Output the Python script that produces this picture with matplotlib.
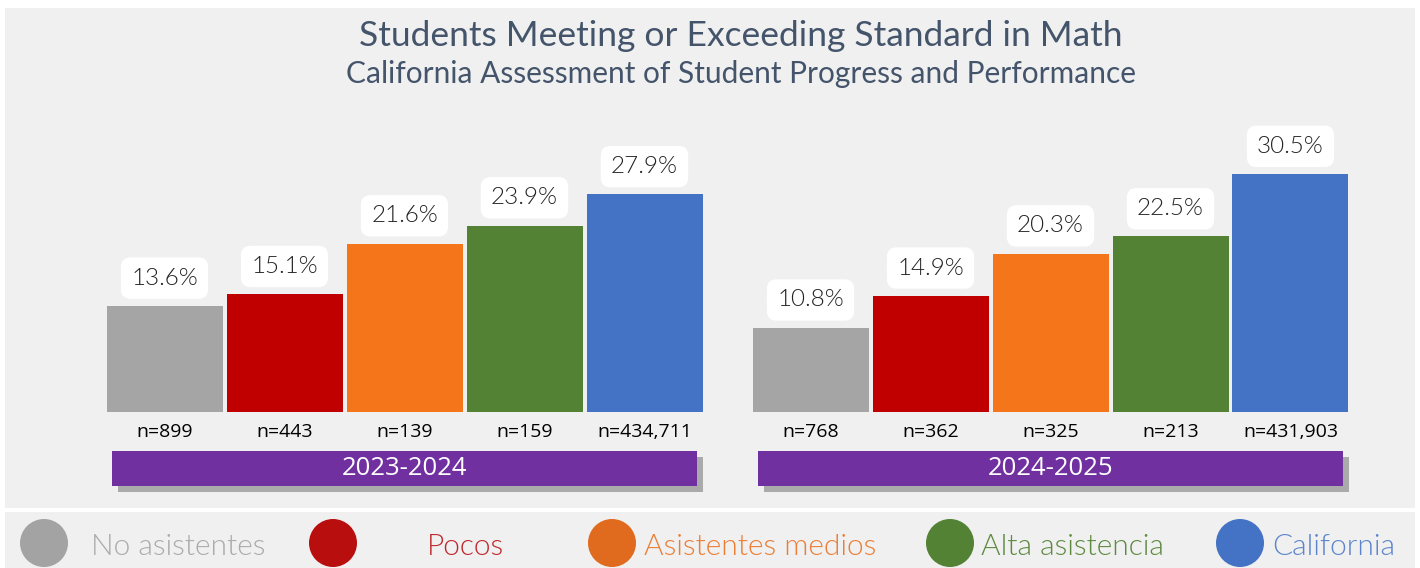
import matplotlib.pyplot as plt
from matplotlib.patches import Rectangle, Ellipse
import matplotlib.patheffects as pe

groups = ["2023-2024", "2024-2025"]
categories = ["No asistentes", "Pocos", "Asistentes medios", "Alta asistencia", "California"]
pct_2324 = [13.6, 15.1, 21.6, 23.9, 27.9]
pct_2425 = [10.8, 14.9, 20.3, 22.5, 30.5]
n_2324 = [899, 443, 139, 159, 434711]
n_2425 = [768, 362, 325, 213, 431903]

bar_colors = ["#A5A5A5", "#C00000", "#F5761A", "#548235", "#4472C4"]
dot_colors = ["#A3A3A3", "#B90E0E", "#E06B1F", "#548235", "#4472C4"]
text_colors = ["#ABABAB", "#C0282D", "#EB7D35", "#5E8A40", "#5B84CC"]
title_color = "#44546A"
purple = "#7030A0"

W, H = 1420, 568
fig = plt.figure(figsize=(W / 100, H / 100), dpi=100, facecolor="white")


def fx(px):
    return px / W


def fy(py):
    return 1 - py / H


# background panels
fig.add_artist(Rectangle((fx(5), fy(508)), fx(1410), 500 / H, transform=fig.transFigure,
                         facecolor="#F0F0F0", edgecolor="none", zorder=0))
fig.add_artist(Rectangle((fx(5), 0), fx(1410), 56 / H, transform=fig.transFigure,
                         facecolor="#F0F0F0", edgecolor="none", zorder=0))

# bar axes: one data unit = 120 px, 1% = 7.8 px
unit = 120
pct_px = 7.8
x0_px = 164.5
left_px, right_px = 100, 1360
base_px, top_px = 412, 100
ax = fig.add_axes([fx(left_px), fy(base_px), fx(right_px - left_px), (base_px - top_px) / H])
ax.set_xlim((left_px - x0_px) / unit, (right_px - x0_px) / unit)
ax.set_ylim(0, (base_px - top_px) / pct_px)
ax.axis("off")

group_start = [0, (810.5 - x0_px) / unit]
bar_w = 116 / unit

for g, (vals, ns) in enumerate([(pct_2324, n_2324), (pct_2425, n_2425)]):
    xs = [group_start[g] + i for i in range(len(vals))]
    ax.bar(xs, vals, width=bar_w, color=bar_colors, edgecolor="none")
    for x, v, n in zip(xs, vals, ns):
        ax.annotate(f"{v}%", (x, v), xytext=(0, 20), textcoords="offset points",
                    ha="center", va="center", fontsize=17.5, family="Lato",
                    fontweight=300, color="#222222",
                    bbox=dict(boxstyle="round,pad=0.42,rounding_size=0.4",
                              fc="white", ec="none"))
        ax.annotate(f"n={n:,}", (x, 0), xytext=(0, -14.5), textcoords="offset points",
                    ha="center", va="center", fontsize=14, family="Open Sans",
                    color="black", annotation_clip=False)
    # year banner
    bx0 = xs[0] - 0.4375
    bx1 = xs[-1] + 0.4375
    y_top = -39 / pct_px
    y_bot = -74 / pct_px
    banner = Rectangle((bx0, y_bot), bx1 - bx0, y_top - y_bot, facecolor=purple,
                       edgecolor="none", clip_on=False, zorder=3)
    banner.set_path_effects([pe.SimplePatchShadow(offset=(4, -4), shadow_rgbFace="#666666",
                                                  alpha=0.5), pe.Normal()])
    ax.add_patch(banner)
    ax.text((bx0 + bx1) / 2, (y_top + y_bot) / 2, groups[g], ha="center", va="center",
            fontsize=18.5, family="Open Sans", color="white", zorder=4, clip_on=False)

# titles
fig.text(fx(741), fy(36), "Students Meeting or Exceeding Standard in Math", ha="center",
         va="center", fontsize=25.5, family="Lato", color=title_color)
fig.text(fx(741), fy(74), "California Assessment of Student Progress and Performance",
         ha="center", va="center", fontsize=21.5, family="Lato", color=title_color)

# legend
dot_x = [44, 333, 612, 950, 1240]
label_x = [91, 427, 644, 981, 1272]
for cat, dx, lx, dc, tc in zip(categories, dot_x, label_x, dot_colors, text_colors):
    fig.add_artist(Ellipse((fx(dx), fy(543)), 48 / W, 48 / H, transform=fig.transFigure,
                           facecolor=dc, edgecolor="none"))
    fig.text(fx(lx), fy(547), cat, ha="left", va="center", fontsize=21.5, family="Lato",
             fontweight=300, color=tc)

fig.savefig("out.png", dpi=100, facecolor="white")
